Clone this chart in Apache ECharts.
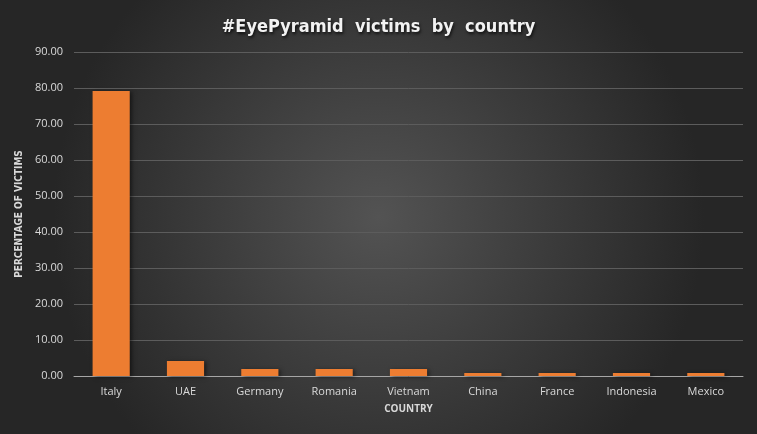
<!DOCTYPE html>
<html><head><meta charset="utf-8">
<script src="https://cdn.jsdelivr.net/npm/echarts@6/dist/echarts.min.js"></script>
<style>html,body{margin:0;padding:0;}#c{width:757px;height:434px;}</style>
</head><body><div id="c"></div>
<script>
const categories = ["Italy","UAE","Germany","Romania","Vietnam","China","France","Indonesia","Mexico"];
const values = [79.2, 4.2, 1.95, 1.95, 1.95, 0.85, 0.85, 0.85, 0.85];
const titleText = "#EyePyramid  victims  by  country";
const yName = "PERCENTAGE OF VICTIMS";
const xName = "COUNTRY";

const chart = echarts.init(document.getElementById('c'));
chart.setOption({
  backgroundColor: {
    type: 'radial', x: 0.5, y: 0.5, r: 0.75,
    colorStops: [{offset: 0, color: '#535353'}, {offset: 1, color: '#262626'}]
  },
  title: {
    text: titleText, left: 'center', top: 13,
    textStyle: {color: '#f2f2f2', fontSize: 18, fontWeight: 'bold', fontFamily: 'DejaVu Sans Condensed',
      textShadowColor: 'rgba(0,0,0,0.7)', textShadowBlur: 3, textShadowOffsetX: 1, textShadowOffsetY: 2}
  },
  grid: {left: 74, right: 14, top: 52, bottom: 58},
  xAxis: {
    type: 'category', data: categories,
    name: xName, nameLocation: 'middle', nameGap: 28,
    nameTextStyle: {color: '#d9d9d9', fontSize: 10, fontWeight: 'bold', fontFamily: 'Open Sans'},
    axisLine: {lineStyle: {color: '#a6a6a6', width: 1}},
    axisTick: {show: false},
    axisLabel: {color: '#d9d9d9', fontSize: 11, margin: 10, fontFamily: 'Open Sans'}
  },
  yAxis: {
    type: 'value', min: 0, max: 90, interval: 10,
    name: yName, nameLocation: 'middle', nameGap: 45,
    nameTextStyle: {color: '#d9d9d9', fontSize: 10, fontWeight: 'bold', fontFamily: 'DejaVu Sans Condensed'},
    axisLine: {show: false}, axisTick: {show: false},
    axisLabel: {color: '#d9d9d9', fontSize: 11, margin: 11, fontFamily: 'Open Sans',
      formatter: v => v.toFixed(2)},
    splitLine: {lineStyle: {color: '#5c5c5c', width: 1}}
  },
  series: [{
    type: 'bar', data: values, barWidth: '50%',
    itemStyle: {color: '#ed7d31', shadowColor: 'rgba(0,0,0,0.5)', shadowBlur: 4, shadowOffsetX: 2, shadowOffsetY: 1},
    animation: false
  }],
  animation: false
});
</script></body></html>
